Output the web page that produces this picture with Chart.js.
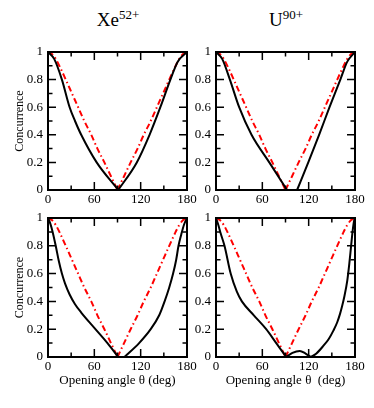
<!DOCTYPE html>
<html>
<head>
<meta charset="utf-8">
<script src="https://cdn.jsdelivr.net/npm/chart.js@4/dist/chart.umd.min.js"></script>
<style>
  html, body { margin:0; padding:0; background:#fff; }
  #wrap { position:relative; width:374px; height:408px; overflow:hidden; }
  canvas { position:absolute; left:0; top:0; }
  .ttl { position:absolute; width:120px; text-align:center; font-family:"Liberation Serif","Times New Roman",serif; font-size:19px; line-height:19px; color:#000; white-space:nowrap; }
  .ttl span { position:relative; top:-0.55em; font-size:13px; color:#000; }
</style>
</head>
<body>
<div id="wrap">
  <div class="ttl" style="left:58px; top:10px;">Xe<span>52+</span></div>
  <div class="ttl" style="left:226px; top:10px;">U<span>90+</span></div>
  <canvas id="c1" width="374" height="408"></canvas>
  <canvas id="c2" width="374" height="408"></canvas>
  <canvas id="c3" width="374" height="408"></canvas>
  <canvas id="c4" width="374" height="408"></canvas>
</div>
<script>
// ---- Data ----
const xTickValues = [0, 60, 120, 180];
const yTickValues = [0, 0.2, 0.4, 0.6, 0.8, 1];

// red dash-dot reference curve (same in all panels)
const redAngles = [0, 5, 10, 16, 23, 31, 39, 47, 56, 64, 73, 81.5, 90, 98.5, 107, 116, 124, 133, 141, 149, 157, 164, 170, 175, 180];
const redValues = [1, 0.985, 0.95, 0.885, 0.8, 0.7, 0.6, 0.5, 0.4, 0.3, 0.2, 0.1, 0, 0.1, 0.2, 0.3, 0.4, 0.5, 0.6, 0.7, 0.8, 0.885, 0.95, 0.985, 1];

// Xe52+ top panel
const xeTopAngles = [0, 8, 18, 28, 35, 43, 63, 91, 115, 131.5, 145.5, 158.5, 168, 180];
const xeTopValues = [1, 0.95, 0.8, 0.6, 0.5, 0.4, 0.2, 0, 0.2, 0.4, 0.6, 0.8, 0.93, 1];

// U90+ top panel
const uTopAngles = [0, 8, 18, 30, 46, 69, 92, 105, 119.5, 133.5, 147, 161, 170, 180];
const uTopValues = [1, 0.95, 0.8, 0.6, 0.4, 0.2, 0, 0, 0.2, 0.4, 0.6, 0.8, 0.93, 1];

// Xe52+ bottom panel
const xeBotAngles = [0, 3, 6, 10, 14, 18, 22, 28, 35, 43, 60, 77, 91, 99, 118, 133, 144, 151, 157, 162, 166, 169, 172.5, 176, 180];
const xeBotValues = [1, 0.96, 0.9, 0.8, 0.69, 0.6, 0.53, 0.45, 0.38, 0.32, 0.21, 0.1, 0, 0, 0.1, 0.2, 0.3, 0.4, 0.5, 0.6, 0.7, 0.8, 0.88, 0.95, 1];

// U90+ bottom panel
const uBotAngles = [0, 3, 6, 11, 19, 27, 33.5, 49, 65, 78, 91, 99, 108.5, 116, 123, 130, 139, 146, 152, 157, 160.6, 163.5, 166, 170, 172.6, 174.8, 177, 179, 180];
const uBotValues = [1, 0.95, 0.89, 0.8, 0.6, 0.47, 0.4, 0.3, 0.2, 0.1, 0, 0.03, 0.044, 0.025, 0, 0.025, 0.08, 0.13, 0.19, 0.25, 0.31, 0.37, 0.43, 0.55, 0.67, 0.79, 0.91, 0.985, 1];

const yAxisTitle = 'Concurrence';
const xAxisTitleLeft = 'Opening angle θ (deg)';
const xAxisTitleRight = 'Opening angle θ  (deg)';

// ---- Rendering ----
const FONT = '"Liberation Serif", "Times New Roman", serif';
const W = 374, H = 408, YW = 48, XH = 40;

function splitAtZeros(angles, values) {
  const segs = [];
  let cur = [];
  for (let i = 0; i < angles.length; i++) {
    cur.push({x: angles[i], y: values[i]});
    if (values[i] === 0 && cur.length > 1) {
      segs.push(cur);
      cur = [{x: angles[i], y: values[i]}];
    }
  }
  if (cur.length > 1) segs.push(cur);
  return segs;
}

const framePlugin = {
  id: 'frame',
  afterDraw(chart) {
    const {ctx, chartArea: a, scales} = chart;
    const xs = scales.x, ys = scales.y;
    ctx.save();
    ctx.strokeStyle = '#000';
    ctx.lineWidth = 1.5;
    ctx.beginPath();
    for (let v = 0; v <= 180; v += 30) {
      const px = xs.getPixelForValue(v);
      const len = (v % 60 === 0) ? 8 : 4.5;
      ctx.moveTo(px, a.bottom); ctx.lineTo(px, a.bottom - len);
      ctx.moveTo(px, a.top); ctx.lineTo(px, a.top + len);
    }
    for (let i = 0; i <= 10; i++) {
      const py = ys.getPixelForValue(i / 10);
      const len = (i % 2 === 0) ? 8 : 4.5;
      ctx.moveTo(a.left, py); ctx.lineTo(a.left + len, py);
      ctx.moveTo(a.right, py); ctx.lineTo(a.right - len, py);
    }
    ctx.stroke();
    ctx.lineWidth = 2;
    ctx.strokeRect(a.left, a.top, a.right - a.left, a.bottom - a.top);
    ctx.restore();
  }
};

function fmtY(v) {
  if (v === 0 || v === 1) return String(v);
  return v.toFixed(1);
}

function makePanel(id, area, angles, values, yTitle, xTitle) {
  const datasets = [];
  splitAtZeros(angles, values).forEach(seg => datasets.push({
    data: seg, borderColor: '#000', borderWidth: 2, pointRadius: 0,
    showLine: true, cubicInterpolationMode: 'monotone', fill: false, clip: 3
  }));
  splitAtZeros(redAngles, redValues).forEach(seg => datasets.push({
    data: seg, borderColor: '#ff0000', borderWidth: 2, borderDash: [6, 3, 1.5, 3],
    pointRadius: 0, showLine: true, cubicInterpolationMode: 'monotone', fill: false, clip: 3
  }));
  return new Chart(document.getElementById(id), {
    type: 'scatter',
    data: { datasets },
    options: {
      responsive: false, animation: false, devicePixelRatio: 1,
      events: [],
      layout: { padding: { left: area.l - YW, right: W - area.r, top: area.t, bottom: H - area.b - XH } },
      plugins: { legend: { display: false }, tooltip: { enabled: false } },
      scales: {
        x: {
          type: 'linear', min: 0, max: 180,
          afterBuildTicks: s => { s.ticks = xTickValues.map(v => ({value: v})); },
          ticks: { color: '#000', font: { family: FONT, size: 13 }, padding: 2, maxRotation: 0, autoSkip: false, callback: v => String(v) },
          grid: { display: false, drawTicks: false },
          border: { display: false },
          title: { display: !!xTitle, text: xTitle || '', color: '#000', font: { family: FONT, size: 13 }, padding: { top: 0, bottom: 9 } },
          afterFit: s => { s.height = XH; s.paddingLeft = 0; s.paddingRight = 0; }
        },
        y: {
          type: 'linear', min: 0, max: 1,
          afterBuildTicks: s => { s.ticks = yTickValues.map(v => ({value: v})); },
          ticks: { color: '#000', font: { family: FONT, size: 13 }, padding: 5, autoSkip: false, callback: v => fmtY(v) },
          grid: { display: false, drawTicks: false },
          border: { display: false },
          title: { display: yTitle, text: yAxisTitle, color: '#000', font: { family: FONT, size: 12 }, padding: { top: 13, bottom: 0 } },
          afterFit: s => { s.width = YW; s.paddingTop = 0; s.paddingBottom = 0; }
        }
      }
    },
    plugins: [framePlugin]
  });
}

makePanel('c1', {l: 48, r: 187, t: 52, b: 190}, xeTopAngles, xeTopValues, true, null);
makePanel('c2', {l: 216, r: 355, t: 52, b: 190}, uTopAngles, uTopValues, false, null);
makePanel('c3', {l: 48, r: 187, t: 218, b: 357}, xeBotAngles, xeBotValues, true, xAxisTitleLeft);
makePanel('c4', {l: 216, r: 355, t: 218, b: 357}, uBotAngles, uBotValues, false, xAxisTitleRight);
</script>
</body>
</html>
